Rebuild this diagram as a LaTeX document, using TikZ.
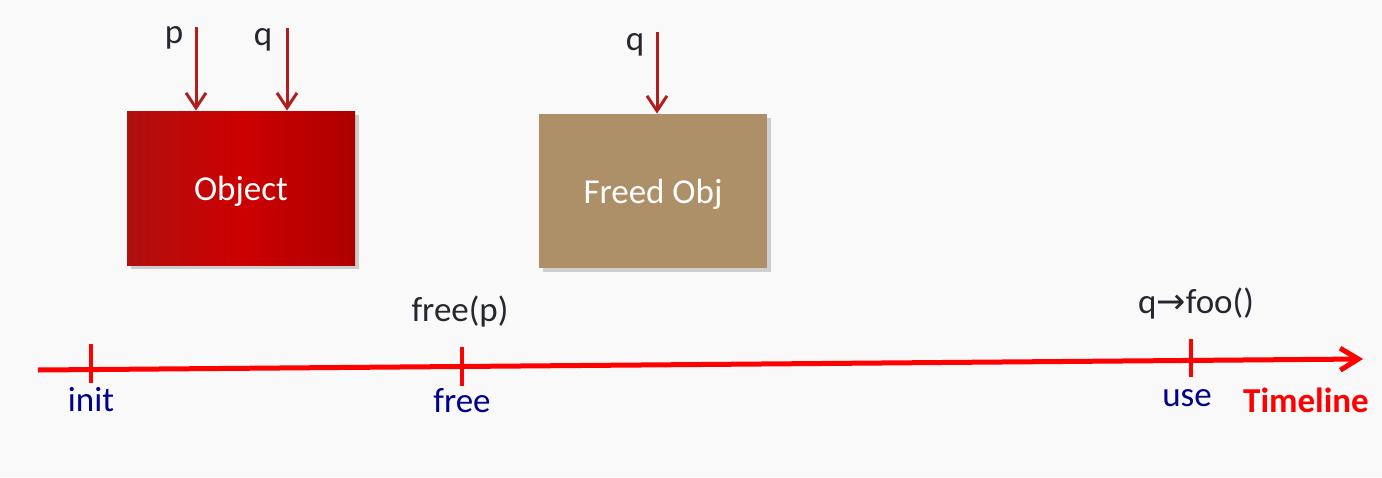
\documentclass[tikz,border=0pt]{standalone}
\usepackage{fontspec}
\setmainfont{Carlito}
\newfontfamily\symfont{DejaVu Sans}
\usetikzlibrary{arrows.meta,shadows}
\definecolor{bgcol}{HTML}{F9F9F9}
\definecolor{ptrcol}{HTML}{B01E1E}
\definecolor{objdark}{HTML}{B01010}
\definecolor{objmid}{HTML}{CC0000}
\definecolor{objright}{HTML}{AE0000}
\definecolor{freedcol}{HTML}{AD8F68}
\definecolor{txtcol}{HTML}{262630}
\definecolor{evtcol}{HTML}{00008C}
\begin{document}
\begin{tikzpicture}[x=0.5pt,y=-0.5pt,
			every node/.style = {font=\fontsize{17.5}{21}\selectfont, text=txtcol},
			box/.style = {minimum width=114pt, minimum height=77pt, inner sep=0pt,
				text height=12pt, text depth=0pt, text=white,
				drop shadow={shadow xshift=2pt, shadow yshift=-2pt, opacity=0.35}},
			ptr/.style = {draw=ptrcol, line width=1.5pt, -{Straight Barb[length=7.5pt,width=10pt]}},
			tick/.style = {draw=red, line width=2pt},
			event/.style = {text=evtcol}]
			
			\fill[bgcol] (0,0) rectangle (1382,477);
			\useasboundingbox (0,0) rectangle (1382,477);
			
			% objects
			\node[box, left color=objdark, right color=objright, middle color=objmid] (obj) at (241,188) {Object};
			\node[box, fill=freedcol] (freed) at (653,191) {Freed Obj};
			
			% pointers
			\coordinate (ptop) at (196,27);
			\coordinate (qtop) at (287,28);
			\coordinate (qtop2) at (657,32);
			\node (plabel) at (174,38) {p};
			\node (qlabel) at (263,40) {q};
			\node (qlabel2) at (635,45) {q};
			\draw[ptr] (ptop) -- (ptop |- obj.north);
			\draw[ptr] (qtop) -- (qtop |- obj.north);
			\draw[ptr] (qtop2) -- (qtop2 |- freed.north);
			
			% timeline
			\coordinate (tstart) at (38,370);
			\coordinate (tend) at (1363,359);
			\draw[red, line width=2.5pt, -{Straight Barb[length=9pt,width=11pt]}] (tstart) -- (tend)
				coordinate[pos=0.040] (tinit)
				coordinate[pos=0.320] (tfree)
				coordinate[pos=0.870] (tuse);
			\draw[tick] (tinit) ++(0,-26) -- ++(0,39);
			\draw[tick] (tfree) ++(0,-19) -- ++(0,39);
			\draw[tick] (tuse) ++(0,-21) -- ++(0,38);
			
			\node[event] (initlabel) at (91,400) {init};
			\node[event] (freelabel) at (462,401) {free};
			\node[event] (uselabel) at (1187,398) {use};
			\node[text=red, font=\fontsize{17.5}{21}\selectfont\bfseries] (tlabel) at (1306,400) {Timeline};
			\node (freecall) at (460,312) {free(p)};
			\node (usecall) at (1196,304) {q{\symfont →}foo()};
			\end{tikzpicture}
\end{document}
